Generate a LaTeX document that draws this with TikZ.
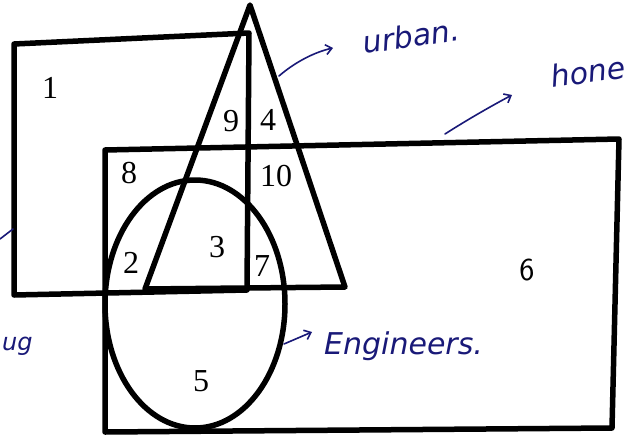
\documentclass[tikz,border=0pt]{standalone}
\usepackage{fontspec}
\setmainfont{Liberation Serif}
\newfontfamily\handfont{DejaVu Sans}
\usetikzlibrary{arrows.meta}
\definecolor{ink}{RGB}{25,25,120}
\begin{document}
\begin{tikzpicture}[x=1pt,y=-1pt,
  heavy/.style={line width=5.5pt,line join=round,line cap=round,black},
  pen/.style={ink,line width=1.6pt,line cap=round},
  num/.style={font=\fontsize{32}{32}\selectfont,inner sep=0pt},
  hand/.style={ink,font=\handfont\itshape\fontsize{30}{30}\selectfont,inner sep=0pt,anchor=base west}]
\useasboundingbox (0,0) rectangle (635,437);
\fill[white] (0,0) rectangle (635,437);
% coordinates
\coordinate (a1) at (14,44);
\coordinate (a2) at (249,33);
\coordinate (a3) at (247,290);
\coordinate (a4) at (14,295);
\coordinate (t0) at (250,5);
\coordinate (tl) at (145,289);
\coordinate (tr) at (345,287);
\coordinate (b1) at (105,150);
\coordinate (b2) at (619,139);
\coordinate (b3) at (612,428);
\coordinate (b4) at (105,432);
\coordinate (ec) at (195,304);
% shapes
\draw[heavy] (a1) -- (a2) -- (a3) -- (a4) -- cycle;
\draw[heavy] (t0) -- (tl) -- (tr) -- cycle;
\draw[heavy] (b1) -- (b2) -- (b3) -- (b4) -- cycle;
\draw[heavy] (ec) ellipse [x radius=90, y radius=124];
% labels
\node[num] (n1) at (50,88) {1};
\node[num] (n9) at (231,121) {9};
\node[num] (n4) at (268,120) {4};
\node[num] (n8) at (129,173) {8};
\node[num] (n10) at (276,176) {10};
\node[num] (n2) at (131,263) {2};
\node[num] (n3) at (217,247) {3};
\node[num] (n7) at (262,266) {7};
\node[num,font=\sffamily\fontsize{32}{32}\selectfont] (n6) at (527,270) {6};
\node[num] (n5) at (201,381) {5};
% handwritten notes
\coordinate (h1s) at (279,76);
\coordinate (h1e) at (333,48);
\draw[pen,-{Straight Barb[length=6pt,width=10pt]}] (h1s) .. controls (295,62) and (315,52) .. (h1e);
\node[hand,rotate=8] (urban) at (364,54) {urban.};
\coordinate (h2s) at (445,134);
\coordinate (h2e) at (512,95);
\draw[pen,-{Straight Barb[length=6pt,width=10pt]}] (h2s) .. controls (470,118) and (495,104) .. (h2e);
\node[hand,rotate=8] (hon) at (552,88) {hone};
\coordinate (h3s) at (284,344);
\coordinate (h3e) at (312,332);
\draw[pen,-{Straight Barb[length=6pt,width=10pt]}] (h3s) -- (h3e);
\node[hand] (eng) at (324,354) {Engineers.};
\node[hand,font=\handfont\itshape\fontsize{24}{24}\selectfont] (ing) at (2,350) {ug};
\coordinate (l1) at (0,239);
\coordinate (l2) at (13,229);
\draw[pen] (l1) -- (l2);
\end{tikzpicture}
\end{document}
